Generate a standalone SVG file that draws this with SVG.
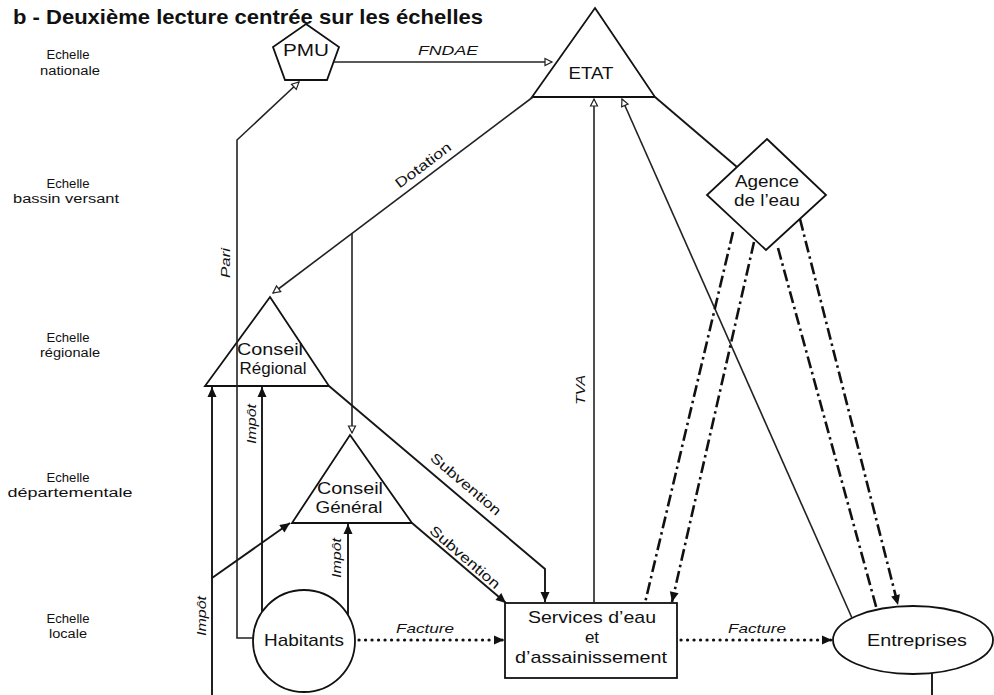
<svg xmlns="http://www.w3.org/2000/svg" width="994" height="695" viewBox="0 0 994 695">
<style>
text{font-family:"Liberation Sans",Arial,sans-serif;fill:#111}
.title{font-size:20px;font-weight:bold}
.scale{font-size:12.5px;text-anchor:middle}
.nt{font-size:17px;text-anchor:middle}
.n2{font-size:16px;text-anchor:middle}
.lbl{font-size:13px;font-style:italic;text-anchor:middle}
.lblu{font-size:14px;text-anchor:middle}
.shape{fill:#fff;stroke:#111;stroke-width:1.8}
.ln{fill:none;stroke:#161616;stroke-width:1.9}
.lt{fill:none;stroke:#222;stroke-width:1.6}
.dd{fill:none;stroke:#111;stroke-width:2.6;stroke-dasharray:12 4 2.5 4}
.dot{fill:none;stroke:#111;stroke-width:3.2;stroke-linecap:round;stroke-dasharray:0.1 6.4}
</style>
<defs>
<marker id="oa" markerUnits="userSpaceOnUse" markerWidth="10" markerHeight="10" refX="7" refY="3.5" orient="auto" overflow="visible">
<path d="M0,0 L7,3.5 L0,7 Z" fill="#fff" stroke="#222" stroke-width="1.2"/>
</marker>
<marker id="fa" markerUnits="userSpaceOnUse" markerWidth="12" markerHeight="12" refX="10" refY="4.5" orient="auto" overflow="visible">
<path d="M0,0 L10,4.5 L0,9 Z" fill="#111"/>
</marker>
</defs>
<rect width="994" height="695" fill="#fff"/>
<text class="title" x="13" y="24" textLength="470" lengthAdjust="spacingAndGlyphs">b - Deuxième lecture centrée sur les échelles</text>
<g id="scales">
<text class="scale" x="68" y="59" textLength="43" lengthAdjust="spacingAndGlyphs">Echelle</text>
<text class="scale" x="70" y="75" textLength="60" lengthAdjust="spacingAndGlyphs">nationale</text>
<text class="scale" x="68" y="188" textLength="43" lengthAdjust="spacingAndGlyphs">Echelle</text>
<text class="scale" x="66" y="203" textLength="106" lengthAdjust="spacingAndGlyphs">bassin versant</text>
<text class="scale" x="68" y="342" textLength="43" lengthAdjust="spacingAndGlyphs">Echelle</text>
<text class="scale" x="70" y="357" textLength="60" lengthAdjust="spacingAndGlyphs">régionale</text>
<text class="scale" x="68" y="482" textLength="43" lengthAdjust="spacingAndGlyphs">Echelle</text>
<text class="scale" x="70" y="497" textLength="125" lengthAdjust="spacingAndGlyphs">départementale</text>
<text class="scale" x="68" y="623" textLength="43" lengthAdjust="spacingAndGlyphs">Echelle</text>
<text class="scale" x="68" y="638" textLength="38" lengthAdjust="spacingAndGlyphs">locale</text>
</g>
<g id="node-pmu">
<polygon class="shape" points="306,24 339,47 327,80 285,80 273,47"/>
<text class="nt" x="306" y="56" textLength="46" lengthAdjust="spacingAndGlyphs">PMU</text>
</g>
<g id="node-etat">
<polygon class="shape" points="595,8 655,97 532,97"/>
<text class="nt" x="591" y="79" textLength="45" lengthAdjust="spacingAndGlyphs">ETAT</text>
</g>
<g id="node-agence">
<polygon class="shape" points="767,139 826,195 766,250 707,195"/>
<text class="n2" x="767" y="187" textLength="64" lengthAdjust="spacingAndGlyphs">Agence</text>
<text class="n2" x="767" y="206" textLength="66" lengthAdjust="spacingAndGlyphs">de l’eau</text>
</g>
<g id="node-cr">
<polygon class="shape" points="270,297 329,386 205,386"/>
<text class="n2" x="270" y="355" textLength="66" lengthAdjust="spacingAndGlyphs">Conseil</text>
<text class="n2" x="273" y="374" textLength="67" lengthAdjust="spacingAndGlyphs">Régional</text>
</g>
<g id="node-cg">
<polygon class="shape" points="350,435 412,523 292,523"/>
<text class="n2" x="350" y="494" textLength="66" lengthAdjust="spacingAndGlyphs">Conseil</text>
<text class="n2" x="349" y="513" textLength="67" lengthAdjust="spacingAndGlyphs">Général</text>
</g>
<g id="node-habitants">
<circle class="shape" cx="304" cy="641" r="51"/>
<text class="nt" x="304" y="646" textLength="80" lengthAdjust="spacingAndGlyphs">Habitants</text>
</g>
<g id="node-services">
<rect class="shape" x="505" y="603" width="172" height="75"/>
<text class="nt" x="592" y="623" textLength="128" lengthAdjust="spacingAndGlyphs">Services d’eau</text>
<text class="nt" x="592" y="643">et</text>
<text class="nt" x="591" y="663" textLength="152" lengthAdjust="spacingAndGlyphs">d’assainissement</text>
</g>
<g id="node-entreprises">
<ellipse class="shape" cx="913" cy="640" rx="80" ry="34"/>
<text class="nt" x="917" y="646" textLength="100" lengthAdjust="spacingAndGlyphs">Entreprises</text>
</g>
<g id="connectors">
<path class="lt" d="M334,62 H552" marker-end="url(#oa)"/>
<path class="lt" d="M533,97 L273,293" marker-end="url(#oa)"/>
<path class="lt" d="M352,233 V433" marker-end="url(#oa)"/>
<path class="lt" d="M253,638 H237 V140 L299,82" marker-end="url(#oa)"/>
<path class="lt" d="M594,603 V99" marker-end="url(#oa)"/>
<path class="lt" d="M852,618 L622,99" marker-end="url(#oa)"/>
<path class="ln" d="M655,97 L737,167"/>
<path class="ln" d="M262,612 V387" marker-end="url(#fa)"/>
<path class="ln" d="M348,615 V524" marker-end="url(#fa)"/>
<path class="ln" d="M212,695 V387" marker-end="url(#fa)"/>
<path class="ln" d="M212,578 L290,523" marker-end="url(#fa)"/>
<path class="ln" d="M329,386 L545,569 V602" marker-end="url(#fa)"/>
<path class="ln" d="M412,523 L506,603" marker-end="url(#fa)"/>
<path class="ln" d="M932,673 V695"/>
<path class="dot" d="M359,640 H504" marker-end="url(#fa)"/>
<path class="dot" d="M681,640 H832" marker-end="url(#fa)"/>
<path class="dd" d="M733,232 L645,603"/>
<path class="dd" d="M754,242 L672,602" marker-end="url(#fa)"/>
<path class="dd" d="M778,248 L877,610"/>
<path class="dd" d="M800,219 L898,605" marker-end="url(#fa)"/>
<text class="lbl" x="448" y="55" textLength="60" lengthAdjust="spacingAndGlyphs">FNDAE</text>
<text class="lbl" x="425" y="633" textLength="58" lengthAdjust="spacingAndGlyphs">Facture</text>
<text class="lbl" x="757" y="633" textLength="58" lengthAdjust="spacingAndGlyphs">Facture</text>
<text class="lbl" transform="translate(230,263) rotate(-90)" textLength="30" lengthAdjust="spacingAndGlyphs">Pari</text>
<text class="lbl" transform="translate(585,390) rotate(-90)" textLength="30" lengthAdjust="spacingAndGlyphs">TVA</text>
<text class="lbl" transform="translate(206,616) rotate(-90)" textLength="40" lengthAdjust="spacingAndGlyphs">Impôt</text>
<text class="lbl" transform="translate(256,424) rotate(-90)" textLength="40" lengthAdjust="spacingAndGlyphs">Impôt</text>
<text class="lbl" transform="translate(341,558) rotate(-90)" textLength="40" lengthAdjust="spacingAndGlyphs">Impôt</text>
<text class="lblu" transform="translate(423,165) rotate(-36.9)" y="5" textLength="66" lengthAdjust="spacingAndGlyphs">Dotation</text>
<text class="lblu" transform="translate(466,484) rotate(40.3)" y="5" textLength="88" lengthAdjust="spacingAndGlyphs">Subvention</text>
<text class="lblu" transform="translate(465,557) rotate(40.8)" y="5" textLength="88" lengthAdjust="spacingAndGlyphs">Subvention</text>
</g>
</svg>
